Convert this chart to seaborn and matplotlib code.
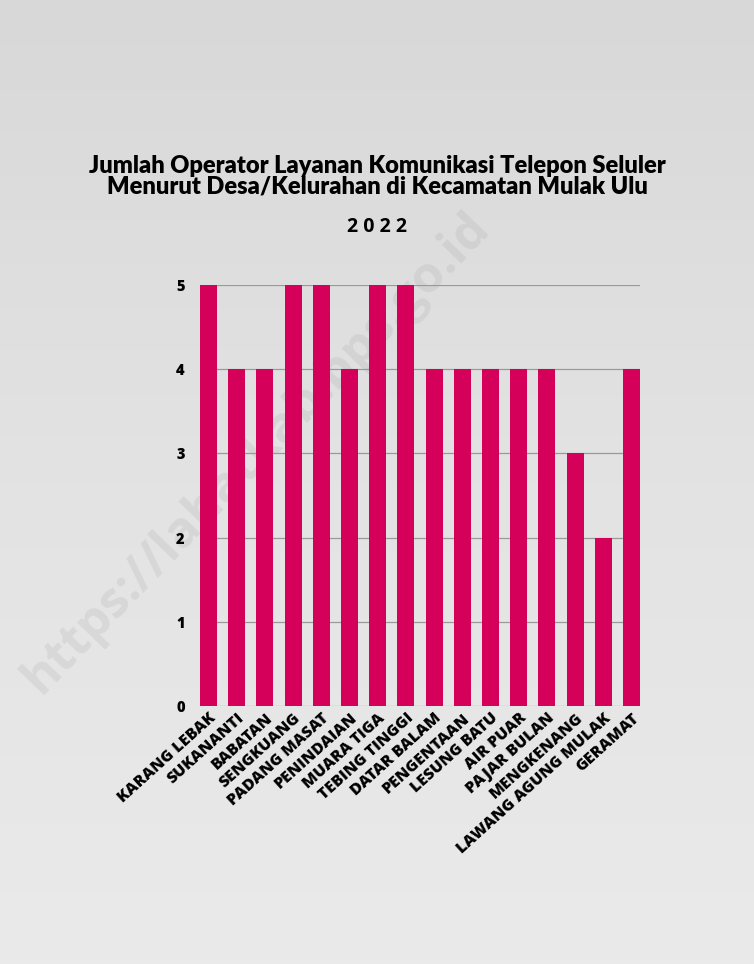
import numpy as np
import matplotlib
matplotlib.use("Agg")
import matplotlib.pyplot as plt
import seaborn as sns
import pandas as pd

categories = ["KARANG LEBAK", "SUKANANTI", "BABATAN", "SENGKUANG", "PADANG MASAT",
              "PENINDAIAN", "MUARA TIGA", "TEBING TINGGI", "DATAR BALAM", "PENGENTAAN",
              "LESUNG BATU", "AIR PUAR", "PAJAR BULAN", "MENGKENANG",
              "LAWANG AGUNG MULAK", "GERAMAT"]
values = [5, 4, 4, 5, 5, 4, 5, 5, 4, 4, 4, 4, 4, 3, 2, 4]
yticks = [0, 1, 2, 3, 4, 5]

title = "Jumlah Operator Layanan Komunikasi Telepon Seluler\nMenurut Desa/Kelurahan di Kecamatan Mulak Ulu"
subtitle = "2 0 2 2"

sns.set_theme(style="white")
plt.rcParams['font.family'] = ['Open Sans', 'DejaVu Sans']

fig = plt.figure(figsize=(7.54, 9.64), dpi=100)
# soft paper-like background gradient
bg = fig.add_axes([0, 0, 1, 1], zorder=-10)
grad = np.linspace(0, 1, 256).reshape(-1, 1)
bg.imshow(grad, aspect='auto', cmap=matplotlib.colors.LinearSegmentedColormap.from_list(
    'paper', ['#d8d8d8', '#e3e3e3', '#eaeaea']), extent=[0, 1, 0, 1], origin='upper')
bg.axis('off')
bg.text(0.34, 0.53, "https://lahatkab.bps.go.id", rotation=46, fontsize=36,
        fontweight='bold', color='#808080', alpha=0.13, ha='center', va='center',
        transform=bg.transAxes)
fig.patch.set_facecolor('#e2e2e2')

ax = fig.add_axes([200/754, 1-706/964, 440/754, 421/964])
ax.set_facecolor('none')
df = pd.DataFrame({"desa": categories, "jumlah": values})
sns.barplot(data=df, x="desa", y="jumlah", color="#D4005A", saturation=1,
            width=0.6, ax=ax, zorder=3, linewidth=0, edgecolor='none')
ax.set_xlim(-0.3, len(categories) - 0.7)
ax.set_ylim(0, 5)
ax.set_yticks(yticks)
ax.set_yticklabels([str(t) for t in yticks], fontsize=10.5, fontweight='heavy', color='black')
ax.yaxis.grid(True, color='#9a9a9a', linewidth=0.9, zorder=0)
ax.set_axisbelow(True)
for s in ax.spines.values():
    s.set_visible(False)
ax.tick_params(axis='y', length=0, pad=11)
ax.tick_params(axis='x', length=0, pad=3)
ax.set_xticks(range(len(categories)))
ax.set_xticklabels(categories, rotation=42, ha='right', rotation_mode='anchor',
                   fontsize=11.5, fontweight='heavy', color='black')
ax.set_xlabel("")
ax.set_ylabel("")

fig.text(0.5, 0.817, title, ha='center', va='center', fontsize=17,
         fontweight='heavy', family=['Lato', 'DejaVu Sans'], color='black', linespacing=0.95)
fig.text(0.5, 0.765, subtitle, ha='center', va='center', fontsize=14,
         fontweight='bold', color='black')

fig.savefig("out.png", dpi=100, facecolor=fig.get_facecolor())
